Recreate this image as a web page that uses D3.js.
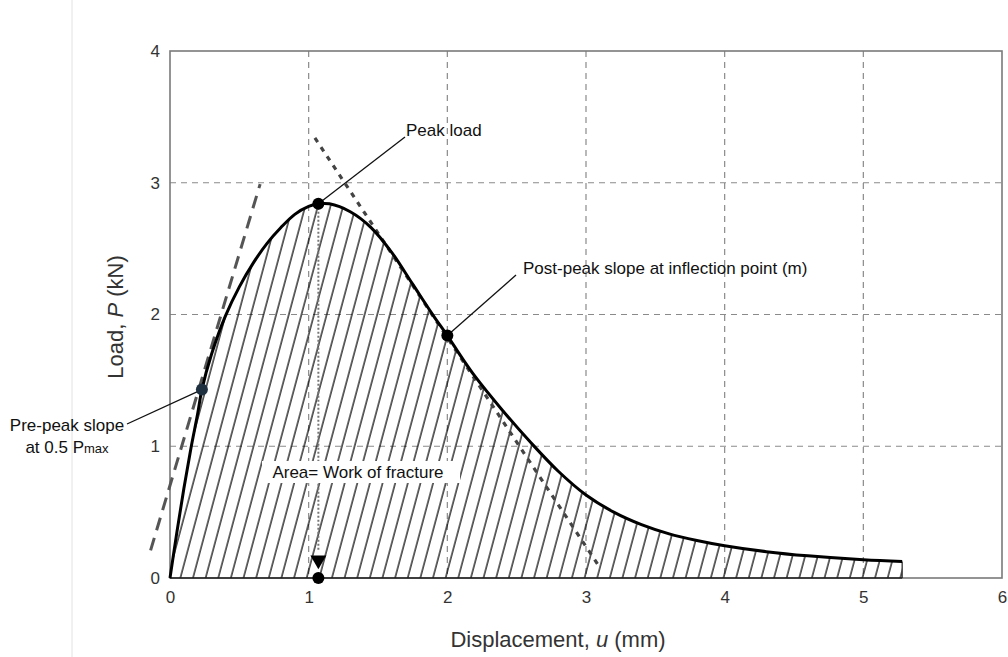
<!DOCTYPE html>
<html><head><meta charset="utf-8">
<script src="https://cdn.jsdelivr.net/npm/d3@7"></script>
<style>body{margin:0;background:#fff;}svg{display:block;font-family:Arial,"Liberation Sans",sans-serif;}</style>
</head><body><svg id="c" width="1008" height="657"></svg>
<script>
const dispX = [0,0.05,0.1,0.15,0.2,0.23,0.3,0.4,0.5,0.6,0.7,0.8,0.9,1.0,1.07,1.15,1.3,1.45,1.6,1.75,1.9,2.0,2.1,2.2,2.4,2.6,2.8,3.0,3.2,3.4,3.6,3.8,4.0,4.3,4.6,5.0,5.28];
const loadY = [0,0.35,0.68,0.98,1.25,1.43,1.7,1.99,2.21,2.39,2.54,2.66,2.76,2.82,2.84,2.84,2.78,2.66,2.47,2.23,1.99,1.84,1.68,1.53,1.27,1.03,0.81,0.63,0.5,0.405,0.335,0.285,0.245,0.2,0.168,0.138,0.125];
const xTicks = [0,1,2,3,4,5,6];
const yTicks = [0,1,2,3,4];
const peak = [1.07,2.84];
const inflection = [2.0,1.84];
const prePeak = [0.23,1.43];
const prePeakSlopeLine = [[-0.14,0.21],[0.65,2.99]];
const postPeakSlopeLine = [[1.045,3.34],[3.10,0.08]];

const svg = d3.select('#c');
const L=170,R=1002,T=51,B=578;
const x = d3.scaleLinear().domain([0,6]).range([L,R]);
const y = d3.scaleLinear().domain([0,4]).range([B,T]);

svg.append('line').attr('x1',72).attr('x2',72).attr('y1',0).attr('y2',657).attr('stroke','#e2e2e2').attr('stroke-width',1);

const g = svg.append('g');
g.selectAll('.gx').data(xTicks.filter(d=>d>0&&d<6)).join('line')
 .attr('x1',d=>x(d)).attr('x2',d=>x(d)).attr('y1',T).attr('y2',B)
 .attr('stroke','#8a8a8a').attr('stroke-width',1.2).attr('stroke-dasharray','6,5');
g.selectAll('.gy').data(yTicks.filter(d=>d>0&&d<4)).join('line')
 .attr('y1',d=>y(d)).attr('y2',d=>y(d)).attr('x1',L).attr('x2',R)
 .attr('stroke','#8a8a8a').attr('stroke-width',1.2).attr('stroke-dasharray','6,5');

svg.append('rect').attr('x',L).attr('y',T).attr('width',R-L).attr('height',B-T)
 .attr('fill','none').attr('stroke','#7a7a7a').attr('stroke-width',1.6);

const data = dispX.map((d,i)=>[d,loadY[i]]);
const line = d3.line().x(d=>x(d[0])).y(d=>y(d[1])).curve(d3.curveCatmullRom.alpha(0.5));
const area = d3.area().x(d=>x(d[0])).y0(y(0)).y1(d=>y(d[1])).curve(d3.curveCatmullRom.alpha(0.5));

const defs = svg.append('defs');
const pat = defs.append('pattern').attr('id','hatch').attr('patternUnits','userSpaceOnUse')
 .attr('width',12.2).attr('height',40).attr('patternTransform','translate(170,0) rotate(15)');
pat.append('line').attr('x1',1).attr('x2',1).attr('y1',0).attr('y2',40).attr('stroke','#000').attr('stroke-width',1.2);
svg.append('path').datum(data).attr('d',area).attr('fill','url(#hatch)');
svg.append('line').attr('x1',x(0)).attr('x2',x(dispX[dispX.length-1])).attr('y1',y(0)).attr('y2',y(0)).attr('stroke','#222').attr('stroke-width',1.4);
svg.append('line').attr('x1',x(dispX[dispX.length-1])).attr('x2',x(dispX[dispX.length-1])).attr('y1',y(0)).attr('y2',y(loadY[loadY.length-1])).attr('stroke','#222').attr('stroke-width',1.2);

svg.append('line').attr('x1',x(prePeakSlopeLine[0][0])).attr('y1',y(prePeakSlopeLine[0][1]))
 .attr('x2',x(prePeakSlopeLine[1][0])).attr('y2',y(prePeakSlopeLine[1][1]))
 .attr('stroke','#555').attr('stroke-width',3).attr('stroke-dasharray','13,8');
svg.append('line').attr('x1',x(postPeakSlopeLine[0][0])).attr('y1',y(postPeakSlopeLine[0][1]))
 .attr('x2',x(postPeakSlopeLine[1][0])).attr('y2',y(postPeakSlopeLine[1][1]))
 .attr('stroke','#444').attr('stroke-width',3.2).attr('stroke-dasharray','5,6');

svg.append('line').attr('x1',x(peak[0])).attr('x2',x(peak[0])).attr('y1',y(peak[1])).attr('y2',y(0.2))
 .attr('stroke','#777').attr('stroke-width',2).attr('stroke-dasharray','2,2');

svg.append('path').datum(data).attr('d',line).attr('fill','none').attr('stroke','#000').attr('stroke-width',3);

svg.append('path').attr('d',d3.symbol(d3.symbolTriangle,110)()).attr('transform',`translate(${x(peak[0])},${y(0)-18}) rotate(180)`).attr('fill','#000');
svg.append('circle').attr('cx',x(peak[0])).attr('cy',y(0)).attr('r',6).attr('fill','#000');

function leader(p,q){svg.append('line').attr('x1',p[0]).attr('y1',p[1]).attr('x2',q[0]).attr('y2',q[1]).attr('stroke','#111').attr('stroke-width',1.3);}
leader([x(peak[0]),y(peak[1])],[405,137]);
leader([x(inflection[0]),y(inflection[1])],[516,275]);
leader([x(prePeak[0]),y(prePeak[1])],[127,424]);

svg.append('circle').attr('cx',x(peak[0])).attr('cy',y(peak[1])).attr('r',6).attr('fill','#000');
svg.append('circle').attr('cx',x(inflection[0])).attr('cy',y(inflection[1])).attr('r',6).attr('fill','#000');
svg.append('circle').attr('cx',x(prePeak[0])).attr('cy',y(prePeak[1])).attr('r',6).attr('fill','#1e3040');

const xa = d3.axisBottom(x).tickValues(xTicks).tickSize(0).tickPadding(13).tickFormat(d3.format('d'));
const ya = d3.axisLeft(y).tickValues(yTicks).tickSize(0).tickPadding(10).tickFormat(d3.format('d'));
const gx = svg.append('g').attr('transform',`translate(0,${B})`).call(xa);
const gy = svg.append('g').attr('transform',`translate(${L},0)`).call(ya);
[gx,gy].forEach(a=>{a.select('.domain').remove();a.selectAll('text').attr('font-size',17).attr('fill','#333').attr('font-family','Arial,"Liberation Sans",sans-serif');});

const xt = svg.append('text').attr('x',558).attr('y',647).attr('text-anchor','middle').attr('font-size',22).attr('fill','#333');
xt.append('tspan').text('Displacement, ');
xt.append('tspan').attr('font-style','italic').text('u');
xt.append('tspan').text(' (mm)');
const yt = svg.append('text').attr('transform','translate(123,317) rotate(-90)').attr('text-anchor','middle').attr('font-size',22).attr('fill','#333');
yt.append('tspan').text('Load, ');
yt.append('tspan').attr('font-style','italic').text('P');
yt.append('tspan').text(' (kN)');

function txt(s,xx,yy,anchor){return svg.append('text').attr('x',xx).attr('y',yy).attr('font-size',17).attr('fill','#111').attr('text-anchor',anchor||'start').text(s);}
txt('Peak load',406,136);
txt('Post-peak slope at inflection point (m)',523,274);
txt('Pre-peak slope',67,431,'middle');
const pm = svg.append('text').attr('x',67).attr('y',453).attr('font-size',17).attr('fill','#111').attr('text-anchor','middle');
pm.append('tspan').text('at 0.5 P');
pm.append('tspan').attr('font-size',13).text('max');

svg.append('rect').attr('x',262).attr('y',461).attr('width',198).attr('height',22).attr('fill','#fff');
txt('Area= Work of fracture',358,478,'middle');
</script></body></html>
